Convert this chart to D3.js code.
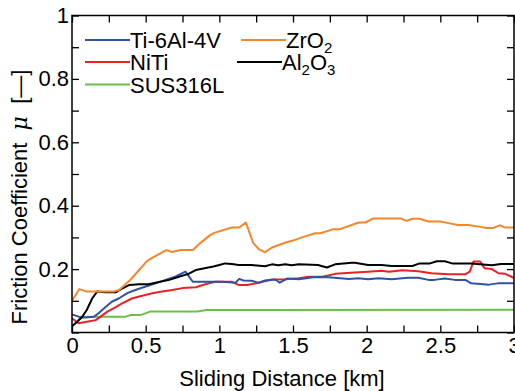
<!DOCTYPE html>
<html>
<head>
<meta charset="utf-8">
<script src="https://cdn.jsdelivr.net/npm/d3@7"></script>
<style>
  body { margin: 0; background: #fff; }
  svg { display: block; font-family: 'Liberation Sans', Arial, Helvetica, sans-serif; }
</style>
</head>
<body>
<svg id="chart" width="515" height="391"></svg>
<script>
// sliding distance [km], friction coefficient
const ti64 = [[0,0.057],[0.045,0.05],[0.09,0.047],[0.15,0.05],[0.18,0.061],[0.23,0.081],[0.27,0.097],[0.32,0.108],[0.375,0.124],[0.43,0.134],[0.50,0.145],[0.567,0.155],[0.635,0.166],[0.70,0.176],[0.77,0.192],[0.82,0.16],[0.905,0.16],[1.02,0.16],[1.11,0.157],[1.135,0.169],[1.164,0.164],[1.22,0.163],[1.266,0.157],[1.31,0.164],[1.38,0.167],[1.41,0.157],[1.46,0.17],[1.54,0.168],[1.65,0.175],[1.74,0.174],[1.88,0.169],[1.945,0.171],[2.01,0.168],[2.08,0.171],[2.17,0.168],[2.28,0.173],[2.35,0.173],[2.42,0.166],[2.46,0.166],[2.53,0.17],[2.60,0.166],[2.67,0.166],[2.71,0.155],[2.83,0.151],[2.89,0.155],[3.0,0.155]];
const zro2 = [[0,0.10],[0.05,0.137],[0.10,0.129],[0.28,0.129],[0.32,0.134],[0.40,0.168],[0.51,0.226],[0.55,0.237],[0.64,0.26],[0.68,0.254],[0.735,0.26],[0.82,0.26],[0.87,0.282],[0.94,0.308],[0.97,0.315],[1.085,0.331],[1.135,0.331],[1.18,0.347],[1.23,0.282],[1.27,0.262],[1.31,0.253],[1.357,0.268],[1.45,0.284],[1.5,0.29],[1.56,0.300],[1.65,0.313],[1.685,0.313],[1.775,0.326],[1.82,0.326],[1.945,0.347],[1.99,0.347],[2.046,0.36],[2.23,0.36],[2.27,0.352],[2.31,0.359],[2.36,0.359],[2.42,0.35],[2.50,0.35],[2.555,0.345],[2.62,0.339],[2.69,0.339],[2.76,0.334],[2.815,0.33],[2.86,0.33],[2.905,0.338],[2.94,0.331],[3.0,0.331]];
const niti = [[0,0.045],[0.045,0.029],[0.10,0.034],[0.16,0.039],[0.194,0.05],[0.24,0.066],[0.30,0.081],[0.34,0.092],[0.41,0.108],[0.477,0.116],[0.545,0.124],[0.61,0.129],[0.68,0.134],[0.75,0.14],[0.84,0.143],[0.905,0.152],[0.97,0.16],[1.085,0.16],[1.13,0.15],[1.19,0.15],[1.266,0.157],[1.357,0.167],[1.447,0.168],[1.54,0.171],[1.605,0.176],[1.70,0.176],[1.786,0.185],[1.92,0.189],[2.01,0.192],[2.10,0.195],[2.15,0.192],[2.24,0.196],[2.35,0.193],[2.44,0.187],[2.555,0.184],[2.67,0.184],[2.70,0.192],[2.725,0.224],[2.77,0.224],[2.80,0.203],[2.85,0.2],[2.894,0.187],[2.94,0.185],[3.0,0.172]];
const al2o3 = [[0,0.02],[0.036,0.034],[0.07,0.05],[0.10,0.071],[0.138,0.108],[0.17,0.129],[0.23,0.127],[0.30,0.127],[0.33,0.136],[0.39,0.15],[0.455,0.152],[0.52,0.152],[0.59,0.159],[0.66,0.166],[0.726,0.176],[0.79,0.185],[0.84,0.197],[0.90,0.203],[0.96,0.208],[1.0,0.213],[1.04,0.218],[1.085,0.216],[1.13,0.213],[1.22,0.213],[1.31,0.209],[1.357,0.215],[1.40,0.212],[1.447,0.215],[1.49,0.212],[1.54,0.215],[1.67,0.213],[1.73,0.205],[1.786,0.215],[1.90,0.22],[1.92,0.22],[2.01,0.213],[2.10,0.213],[2.17,0.21],[2.31,0.21],[2.36,0.218],[2.43,0.218],[2.476,0.225],[2.53,0.225],[2.58,0.218],[2.71,0.218],[2.85,0.212],[2.91,0.216],[3.0,0.216]];
const sus316l = [[0.04,0.04],[0.09,0.05],[0.365,0.05],[0.40,0.055],[0.465,0.055],[0.53,0.066],[0.80,0.066],[0.85,0.066],[0.915,0.071],[3.0,0.072]];

const xTicks = [0, 0.25, 0.5, 0.75, 1, 1.25, 1.5, 1.75, 2, 2.25, 2.5, 2.75, 3];
const xLabels = ['0', '0.5', '1', '1.5', '2', '2.5', '3'];
const yTicks = [0, 0.1, 0.2, 0.3, 0.4, 0.5, 0.6, 0.7, 0.8, 0.9, 1];
const yLabels = ['0.2', '0.4', '0.6', '0.8', '1'];

// legend entries: text pieces, subscripts marked with '_'
const seriesNames = [['Ti-6Al-4V'], ['ZrO', '_2'], ['NiTi'], ['Al', '_2', 'O', '_3'], ['SUS316L']];
const seriesColors = ['#2f52a4', '#f7862b', '#ee2027', '#000000', '#6cbf46'];
const seriesData = [ti64, zro2, niti, al2o3, sus316l];

const svg = d3.select('#chart');
const margin = { top: 15.5, right: 1, bottom: 58.5, left: 72 };
const width = 515 - margin.left - margin.right;
const height = 391 - margin.top - margin.bottom;
const g = svg.append('g').attr('transform', `translate(${margin.left},${margin.top})`);

const x = d3.scaleLinear().domain([0, 3]).range([0, width]);
const y = d3.scaleLinear().domain([0, 1]).range([height, 0]);

const fontSize = 22;
const fmtX = d => { const s = d3.format('~g')(d); return xLabels.includes(s) ? s : ''; };
const fmtY = d => { const s = d3.format('~g')(d); return yLabels.includes(s) ? s : ''; };

function styleAxis(sel) {
  sel.select('.domain').remove();
  sel.selectAll('.tick line').attr('stroke', '#000').attr('stroke-width', 1.3);
  sel.selectAll('.tick text').attr('fill', '#000').style('font-size', fontSize + 'px');
  // drop the empty labels of minor ticks
  sel.selectAll('.tick text').filter(function () { return this.textContent === ''; }).remove();
}

// axes, ticks point inward on all four sides
g.append('g')
  .attr('transform', `translate(0,${height})`)
  .call(d3.axisBottom(x).tickValues(xTicks).tickSize(-7).tickPadding(5).tickFormat(fmtX))
  .call(styleAxis);
g.append('g')
  .call(d3.axisTop(x).tickValues(xTicks).tickSize(-7).tickFormat(''))
  .call(styleAxis);
g.append('g')
  .call(d3.axisLeft(y).tickValues(yTicks).tickSize(-7).tickPadding(3).tickFormat(fmtY))
  .call(styleAxis);
g.append('g')
  .attr('transform', `translate(${width},0)`)
  .call(d3.axisRight(y).tickValues(yTicks).tickSize(-7).tickFormat(''))
  .call(styleAxis);

// lines
const line = d3.line()
  .x(d => x(d[0]))
  .y(d => y(d[1]));

const clip = svg.append('clipPath').attr('id', 'plot-clip');
clip.append('rect').attr('width', width).attr('height', height);

const lines = g.append('g').attr('clip-path', 'url(#plot-clip)');
[4, 2, 0, 3, 1].forEach(i => {
  lines.append('path')
    .datum(seriesData[i])
    .attr('fill', 'none')
    .attr('stroke', seriesColors[i])
    .attr('stroke-width', 2)
    .attr('stroke-linejoin', 'round')
    .attr('d', line);
});

// frame
g.append('rect')
  .attr('width', width)
  .attr('height', height)
  .attr('fill', 'none')
  .attr('stroke', '#000')
  .attr('stroke-width', 1.5);

// legend
const legendPos = [[85, 40], [241, 40], [85, 62], [237, 62], [85, 84.5]];
const legend = svg.append('g');
seriesNames.forEach((parts, i) => {
  const [lx, ly] = legendPos[i];
  legend.append('line')
    .attr('x1', lx).attr('x2', lx + 45)
    .attr('y1', ly).attr('y2', ly)
    .attr('stroke', seriesColors[i])
    .attr('stroke-width', 2);
  const t = legend.append('text')
    .attr('x', lx + 45)
    .attr('y', ly + 8)
    .style('font-size', fontSize + 'px');
  let shifted = false;
  parts.forEach(part => {
    const sub = part.startsWith('_');
    const ts = t.append('tspan').text(sub ? part.slice(1) : part);
    if (sub) {
      ts.attr('dy', 5).style('font-size', '15px');
      shifted = true;
    } else if (shifted) {
      ts.attr('dy', -5);
      shifted = false;
    }
  });
});

// axis titles
svg.append('text')
  .attr('x', margin.left + width / 2 - 11)
  .attr('y', 386)
  .attr('text-anchor', 'middle')
  .style('font-size', fontSize + 'px')
  .text('Sliding Distance [km]');

const yTitle = svg.append('text')
  .attr('transform', 'translate(27,197) rotate(-90)')
  .attr('text-anchor', 'middle')
  .style('font-size', fontSize + 'px');
yTitle.append('tspan').text('Friction Coefficient\u00a0\u00a0');
yTitle.append('tspan').style('font-style', 'italic').style('font-family', "'DejaVu Serif', serif").text('\u03bc');
yTitle.append('tspan').text('\u00a0\u00a0[\u2014]');
</script>
</body>
</html>
